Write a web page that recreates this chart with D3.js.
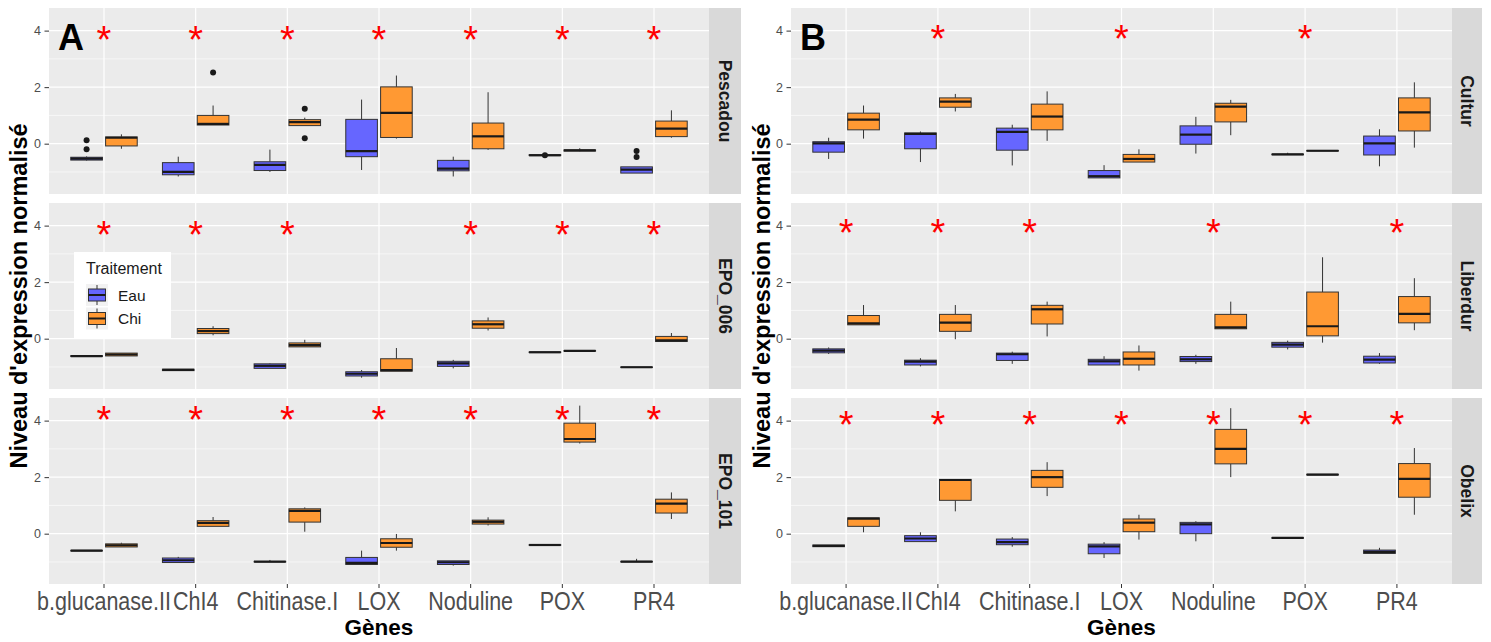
<!DOCTYPE html>
<html><head><meta charset="utf-8">
<script src="https://cdn.jsdelivr.net/npm/d3@7"></script>
<style>body{margin:0;background:#fff;} svg{display:block;font-family:"Liberation Sans",Arial,sans-serif;}</style>
</head><body><svg id="c" width="1491" height="642"></svg>
<script>
const genes = ["b.glucanase.II","ChI4","Chitinase.I","LOX","Noduline","POX","PR4"];
const treatments = ["Eau","Chi"];
const colors = ["#6666FF","#FF9933"];
const cultivarsA = ["Pescadou","EPO_006","EPO_101"];
const cultivarsB = ["Cultur","Liberdur","Obelix"];
const yTicks = [0,2,4];
const yMinor = [-1,1,3];
const yDomain = [-1.78, 4.8];

// [lower whisker, Q1, median, Q3, upper whisker] per gene
const pescadouEau = [[-0.6,-0.58,-0.53,-0.48,-0.45],[-1.16,-1.1,-1.0,-0.67,-0.46],[-1.0,-0.95,-0.75,-0.64,-0.21],[-0.93,-0.46,-0.26,0.86,1.56],[-1.16,-0.96,-0.88,-0.59,-0.46],[-0.43,-0.42,-0.41,-0.39,-0.38],[-1.04,-1.04,-0.92,-0.82,-0.82]];
const pescadouChi = [[-0.18,-0.08,0.21,0.24,0.33],[0.66,0.66,0.7,1.0,1.35],[0.64,0.64,0.76,0.85,0.92],[0.18,0.22,1.09,2.01,2.41],[-0.22,-0.18,0.26,0.73,1.82],[-0.27,-0.26,-0.24,-0.22,-0.16],[0.21,0.25,0.53,0.8,1.18]];
const epo006Eau = [[-0.63,-0.63,-0.62,-0.6,-0.6],[-1.13,-1.13,-1.1,-1.08,-1.08],[-1.05,-1.05,-0.96,-0.89,-0.87],[-1.38,-1.32,-1.24,-1.17,-1.11],[-1.05,-0.98,-0.87,-0.8,-0.75],[-0.49,-0.49,-0.48,-0.47,-0.47],[-1.02,-1.02,-1.01,-1.0,-1.0]];
const epo006Chi = [[-0.61,-0.61,-0.56,-0.51,-0.51],[0.12,0.18,0.27,0.36,0.44],[-0.29,-0.29,-0.23,-0.15,-0.04],[-1.15,-1.15,-1.11,-0.71,-0.33],[0.29,0.37,0.51,0.63,0.75],[-0.44,-0.44,-0.43,-0.42,-0.42],[-0.1,-0.1,-0.06,0.08,0.2]];
const epo101Eau = [[-0.61,-0.61,-0.6,-0.59,-0.59],[-1.02,-1.02,-0.94,-0.86,-0.82],[-1.0,-1.0,-0.99,-0.98,-0.93],[-1.09,-1.09,-1.03,-0.84,-0.6],[-1.13,-1.09,-1.01,-0.96,-0.96],[-0.41,-0.41,-0.4,-0.39,-0.39],[-1.0,-1.0,-0.99,-0.98,-0.89]];
const epo101Chi = [[-0.47,-0.47,-0.41,-0.36,-0.32],[0.26,0.26,0.38,0.46,0.59],[0.07,0.41,0.81,0.88,0.93],[-0.6,-0.48,-0.33,-0.18,-0.01],[0.29,0.34,0.42,0.48,0.58],[3.19,3.24,3.35,3.91,4.53],[0.52,0.73,1.06,1.22,1.46]];
const culturEau = [[-0.54,-0.3,0.01,0.07,0.21],[-0.65,-0.18,0.35,0.38,0.43],[-0.77,-0.23,0.42,0.55,0.67],[-1.21,-1.21,-1.15,-0.95,-0.76],[-0.35,-0.02,0.32,0.63,0.95],[-0.39,-0.39,-0.38,-0.37,-0.32],[-0.8,-0.4,0.01,0.27,0.51]];
const culturChi = [[0.18,0.49,0.85,1.08,1.35],[1.14,1.29,1.49,1.62,1.76],[0.1,0.49,0.96,1.4,1.85],[-0.65,-0.65,-0.54,-0.38,-0.2],[0.3,0.77,1.31,1.43,1.55],[-0.26,-0.26,-0.25,-0.24,-0.24],[-0.14,0.45,1.11,1.62,2.17]];
const liberdurEau = [[-0.54,-0.5,-0.42,-0.36,-0.31],[-0.98,-0.93,-0.81,-0.76,-0.69],[-0.89,-0.77,-0.55,-0.51,-0.46],[-0.93,-0.93,-0.8,-0.73,-0.62],[-0.89,-0.81,-0.73,-0.63,-0.57],[-0.38,-0.3,-0.21,-0.13,-0.07],[-0.89,-0.86,-0.74,-0.62,-0.51]];
const liberdurChi = [[0.49,0.49,0.54,0.82,1.19],[-0.02,0.26,0.57,0.86,1.19],[0.08,0.52,1.04,1.18,1.31],[-1.13,-0.93,-0.71,-0.47,-0.24],[0.35,0.35,0.4,0.86,1.31],[-0.14,0.1,0.44,1.65,2.88],[0.3,0.56,0.88,1.49,2.14]];
const obelixEau = [[-0.46,-0.46,-0.43,-0.4,-0.4],[-0.28,-0.28,-0.17,-0.07,0.05],[-0.46,-0.39,-0.3,-0.19,-0.12],[-0.86,-0.71,-0.45,-0.37,-0.3],[-0.27,0.0,0.33,0.4,0.44],[-0.16,-0.16,-0.15,-0.14,-0.14],[-0.7,-0.7,-0.64,-0.58,-0.5]];
const obelixChi = [[0.05,0.26,0.53,0.56,0.56],[0.79,1.18,1.9,1.92,1.92],[1.33,1.64,2.0,2.24,2.53],[-0.21,0.07,0.39,0.52,0.67],[2.0,2.47,3.0,3.69,4.44],[2.08,2.08,2.09,2.1,2.1],[0.67,1.29,1.94,2.48,3.03]];

// outliers: [gene, value]
const pescadouEauOut = [["b.glucanase.II",0.12],["b.glucanase.II",-0.2],["POX",-0.41],["PR4",-0.26],["PR4",-0.47]];
const pescadouChiOut = [["ChI4",2.52],["Chitinase.I",1.24],["Chitinase.I",0.19]];

// significance (1 = asterisk) per gene, and asterisk level per facet
const pescadouSig = [1,1,1,1,1,1,1];
const epo006Sig   = [1,1,1,0,1,1,1];
const epo101Sig   = [1,1,1,1,1,1,1];
const culturSig   = [0,1,0,1,0,1,0];
const liberdurSig = [1,1,1,0,1,0,1];
const obelixSig   = [1,1,1,1,1,1,1];
const starLevelA = [3.87, 3.87, 4.22];
const starLevelB = [3.9, 3.95, 4.05];

const svg = d3.select("#c");
const facetTops = [8, 203, 398];
const facetH = 186;

const panels = [
  {label:"A", x0:49, x1:709, stripW:32, ylabX:27, facets:[
    {name:cultivarsA[0], box:[pescadouEau,pescadouChi], out:[pescadouEauOut,pescadouChiOut], sig:pescadouSig, star:starLevelA[0]},
    {name:cultivarsA[1], box:[epo006Eau,epo006Chi], out:[[],[]], sig:epo006Sig, star:starLevelA[1]},
    {name:cultivarsA[2], box:[epo101Eau,epo101Chi], out:[[],[]], sig:epo101Sig, star:starLevelA[2]}]},
  {label:"B", x0:791, x1:1452, stripW:30, ylabX:770, facets:[
    {name:cultivarsB[0], box:[culturEau,culturChi], out:[[],[]], sig:culturSig, star:starLevelB[0]},
    {name:cultivarsB[1], box:[liberdurEau,liberdurChi], out:[[],[]], sig:liberdurSig, star:starLevelB[1]},
    {name:cultivarsB[2], box:[obelixEau,obelixChi], out:[[],[]], sig:obelixSig, star:starLevelB[2]}]}
];

panels.forEach(p => {
  const x = d3.scaleBand().domain(genes).range([p.x0, p.x1]).paddingInner(0).paddingOuter(0.1);
  const step = x.step();
  const off = 0.19*step, bw = 0.345*step;
  const cx = g => x(g) + x.bandwidth()/2;

  p.facets.forEach((f, fi) => {
    const top = facetTops[fi];
    const y = d3.scaleLinear().domain(yDomain).range([top+facetH, top]);
    const g = svg.append("g");
    g.append("rect").attr("x",p.x0).attr("y",top).attr("width",p.x1-p.x0).attr("height",facetH).attr("fill","#EBEBEB");
    g.selectAll(".mn").data(yMinor).join("line").attr("x1",p.x0).attr("x2",p.x1)
      .attr("y1",d=>y(d)).attr("y2",d=>y(d)).attr("stroke","#fff").attr("stroke-width",0.6);
    g.selectAll(".mj").data(yTicks).join("line").attr("x1",p.x0).attr("x2",p.x1)
      .attr("y1",d=>y(d)).attr("y2",d=>y(d)).attr("stroke","#fff").attr("stroke-width",1.2);
    g.selectAll(".vx").data(genes).join("line").attr("x1",d=>cx(d)).attr("x2",d=>cx(d))
      .attr("y1",top).attr("y2",top+facetH).attr("stroke","#fff").attr("stroke-width",1.2);

    // boxes
    treatments.forEach((t, ti) => {
      const dx = ti===0 ? -off : off;
      const stats = f.box[ti];
      const bg = g.append("g");
      genes.forEach((gn, gi) => {
        const [lo,q1,md,q3,hi] = stats[gi];
        const c = cx(gn) + dx;
        bg.append("line").attr("x1",c).attr("x2",c).attr("y1",y(hi)).attr("y2",y(q3)).attr("stroke","#333").attr("stroke-width",1);
        bg.append("line").attr("x1",c).attr("x2",c).attr("y1",y(q1)).attr("y2",y(lo)).attr("stroke","#333").attr("stroke-width",1);
        bg.append("rect").attr("x",c-bw/2).attr("y",y(q3)).attr("width",bw).attr("height",Math.max(0.5,y(q1)-y(q3)))
          .attr("fill",colors[ti]).attr("stroke","#333").attr("stroke-width",1);
        bg.append("line").attr("x1",c-bw/2).attr("x2",c+bw/2).attr("y1",y(md)).attr("y2",y(md)).attr("stroke","#1a1a1a").attr("stroke-width",2.2);
      });
      g.selectAll(null).data(f.out[ti]).join("circle").attr("cx",d=>cx(d[0])+dx).attr("cy",d=>y(d[1])).attr("r",3).attr("fill","#1a1a1a");
    });

    // asterisks
    const fs = 38;
    g.selectAll(null).data(genes.filter((gn,i)=>f.sig[i])).join("text")
      .attr("x",d=>cx(d)).attr("y",y(f.star)+0.5*fs).attr("text-anchor","middle")
      .attr("font-size",fs).attr("fill","#FF0000").text("*");

    // strip
    g.append("rect").attr("x",p.x1).attr("y",top).attr("width",p.stripW).attr("height",facetH).attr("fill","#D9D9D9");
    g.append("text").attr("transform",`translate(${p.x1+p.stripW/2},${top+facetH/2}) rotate(90)`)
      .attr("text-anchor","middle").attr("dominant-baseline","central")
      .attr("font-size",17.5).attr("font-weight","bold").attr("fill","#1a1a1a").text(f.name);

    // y axis
    const ya = g.append("g").attr("transform",`translate(${p.x0},0)`)
      .call(d3.axisLeft(y).tickValues(yTicks).tickSize(4.5).tickPadding(3.5).tickFormat(d3.format("d")));
    ya.select(".domain").remove();
    ya.selectAll("line").attr("stroke","#333");
    ya.selectAll("text").attr("font-size",12.5).attr("fill","#4D4D4D").attr("font-family","Liberation Sans, Arial, sans-serif");

    if (fi === 2) {
      const xa = g.append("g").attr("transform",`translate(0,${top+facetH})`)
        .call(d3.axisBottom(x).tickSize(4).tickSizeOuter(0));
      xa.select(".domain").remove();
      xa.selectAll("line").attr("stroke","#333");
      xa.selectAll("text").attr("y",0).attr("dy",0).attr("transform","translate(0,26) scale(1,1.2)")
        .attr("font-size",21.5).attr("fill","#4D4D4D").attr("font-family","Liberation Sans, Arial, sans-serif");
    }
  });

  // axis titles
  svg.append("text").attr("x",(p.x0+p.x1)/2).attr("y",635).attr("text-anchor","middle")
    .attr("font-size",22.5).attr("font-weight","bold").attr("fill","#000").text("Gènes");
  svg.append("text").attr("transform",`translate(${p.ylabX},${(facetTops[0]+facetTops[2]+facetH)/2}) rotate(-90)`)
    .attr("text-anchor","middle").attr("font-size",23.5).attr("font-weight","bold").attr("fill","#000")
    .text("Niveau d'expression normalisé");
  // panel label
  svg.append("text").attr("x",p.x0+9).attr("y",50).attr("font-size",36).attr("font-weight","bold").attr("fill","#000").text(p.label);
});

// legend
const lg = svg.append("g");
lg.append("rect").attr("x",74).attr("y",252).attr("width",97).attr("height",86).attr("fill","#fff");
lg.append("text").attr("x",86).attr("y",274).attr("font-size",16).attr("fill","#1a1a1a").text("Traitement");
treatments.forEach((t, i) => {
  const ky = 284 + i*23.5;
  lg.append("rect").attr("x",86).attr("y",ky).attr("width",22).attr("height",22).attr("fill","#F2F2F2");
  lg.append("line").attr("x1",97).attr("x2",97).attr("y1",ky+1).attr("y2",ky+21).attr("stroke","#333");
  lg.append("rect").attr("x",88.5).attr("y",ky+5).attr("width",17).attr("height",12).attr("fill",colors[i]).attr("stroke","#333");
  lg.append("line").attr("x1",88.5).attr("x2",105.5).attr("y1",ky+11).attr("y2",ky+11).attr("stroke","#1a1a1a").attr("stroke-width",2);
  lg.append("text").attr("x",118).attr("y",ky+11).attr("dominant-baseline","central").attr("font-size",15.5).attr("fill","#1a1a1a").text(t);
});
</script>
</body></html>
